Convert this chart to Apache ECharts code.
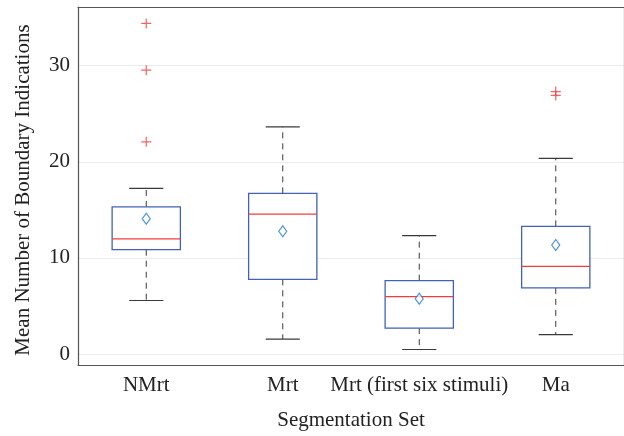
<!DOCTYPE html>
<html>
<head>
<meta charset="utf-8">
<script src="https://cdn.jsdelivr.net/npm/echarts@6/dist/echarts.min.js"></script>
<style>html,body{margin:0;padding:0;background:#fff}#c{width:624px;height:436px}</style>
</head>
<body>
<div id="c"></div>
<script>
const categories = ['NMrt', 'Mrt', 'Mrt (first six stimuli)', 'Ma'];
const lowerWhisker = [5.58, 1.57, 0.48, 2.02];
const q1 = [10.86, 7.78, 2.70, 6.89];
const medians = [11.99, 14.56, 5.99, 9.12];
const q3 = [15.31, 16.72, 7.64, 13.29];
const upperWhisker = [17.23, 23.64, 12.33, 20.35];
const means = [14.08, 12.78, 5.75, 11.34];
const outliers = [[0, 34.39], [0, 29.53], [0, 22.08], [3, 27.3], [3, 26.9]];
const yTicks = [0, 10, 20, 30];

const FONT = 'Liberation Serif';
const boxColor = '#4361b5';
const medColor = '#f23b3b';
const meanColor = '#1f7ad0';
const whiskColor = '#3a3a3a';

const boxData = categories.map((c, i) => [i, lowerWhisker[i], q1[i], medians[i], q3[i], upperWhisker[i]]);

const chart = echarts.init(document.getElementById('c'));
chart.setOption({
  animation: false,
  backgroundColor: '#fff',
  grid: { left: 78, right: -1, top: 7, bottom: 65, containLabel: false },
  xAxis: [{
    type: 'category', data: categories, boundaryGap: true,
    axisLine: { onZero: false, lineStyle: { color: '#555', width: 1.2 } },
    axisTick: { inside: true, alignWithLabel: true, length: 7, lineStyle: { color: '#aaa' } },
    axisLabel: { fontFamily: FONT, fontSize: 21, color: '#222', margin: 10, interval: 0 },
    name: 'Segmentation Set', nameLocation: 'middle', nameGap: 45,
    nameTextStyle: { fontFamily: FONT, fontSize: 21, color: '#222' },
    splitLine: { show: false }
  }, {
    type: 'category', data: categories, boundaryGap: true, position: 'top',
    axisLine: { onZero: false, lineStyle: { color: '#555', width: 1.2 } },
    axisTick: { inside: true, alignWithLabel: true, length: 7, lineStyle: { color: '#aaa' } },
    axisLabel: { show: false }, splitLine: { show: false }
  }],
  yAxis: [{
    type: 'value', min: -1.13, max: 36.1,
    axisLine: { show: true, onZero: false, lineStyle: { color: '#555', width: 1.2 } },
    axisTick: { inside: true, length: 7, customValues: yTicks, lineStyle: { color: '#aaa' } },
    axisLabel: { fontFamily: FONT, fontSize: 21, color: '#222', margin: 8, customValues: yTicks },
    splitLine: { show: true, lineStyle: { color: '#ebebeb' } },
    name: 'Mean Number of Boundary Indications', nameLocation: 'middle', nameGap: 44,
    nameTextStyle: { fontFamily: FONT, fontSize: 21, color: '#222', padding: [0, 8, 0, 0] }
  }, {
    type: 'value', min: -1.13, max: 36.1, position: 'right',
    axisLine: { show: true, onZero: false, lineStyle: { color: '#555', width: 1.2 } },
    axisTick: { inside: true, length: 7, customValues: yTicks, lineStyle: { color: '#aaa' } },
    axisLabel: { show: false }, splitLine: { show: false }
  }],
  series: [{
    type: 'custom',
    data: boxData,
    encode: { x: 0, y: [1, 2, 3, 4, 5] },
    renderItem: function (params, api) {
      const i = api.value(0);
      const band = api.size([1, 0])[0];
      const hw = band * 0.25, cw = band * 0.125;
      const pLw = api.coord([i, api.value(1)]);
      const pQ1 = api.coord([i, api.value(2)]);
      const pMd = api.coord([i, api.value(3)]);
      const pQ3 = api.coord([i, api.value(4)]);
      const pUw = api.coord([i, api.value(5)]);
      const x = pQ1[0];
      const dash = { stroke: whiskColor, lineWidth: 1, lineDash: [6, 5] };
      const solid = { stroke: whiskColor, lineWidth: 1.2 };
      return {
        type: 'group',
        children: [
          { type: 'line', shape: { x1: x, y1: pQ3[1], x2: x, y2: pUw[1] }, style: dash },
          { type: 'line', shape: { x1: x, y1: pQ1[1], x2: x, y2: pLw[1] }, style: dash },
          { type: 'line', shape: { x1: x - cw, y1: pUw[1], x2: x + cw, y2: pUw[1] }, style: solid },
          { type: 'line', shape: { x1: x - cw, y1: pLw[1], x2: x + cw, y2: pLw[1] }, style: solid },
          { type: 'rect', shape: { x: x - hw, y: pQ3[1], width: 2 * hw, height: pQ1[1] - pQ3[1] },
            style: { fill: '#fff', stroke: boxColor, lineWidth: 1.3 } },
          { type: 'line', shape: { x1: x - hw, y1: pMd[1], x2: x + hw, y2: pMd[1] },
            style: { stroke: medColor, lineWidth: 1.3 } }
        ]
      };
    }
  }, {
    type: 'scatter',
    data: categories.map((c, i) => [i, means[i]]),
    symbol: 'diamond', symbolSize: [8, 11],
    itemStyle: { color: '#fff', borderColor: meanColor, borderWidth: 1.2 },
    z: 5
  }, {
    type: 'scatter',
    data: outliers,
    symbol: 'path://M0,5L10,5M5,0L5,10', symbolSize: [10, 10],
    itemStyle: { color: 'none', borderColor: medColor, borderWidth: 1.2 },
    z: 5
  }]
});
</script>
</body>
</html>
